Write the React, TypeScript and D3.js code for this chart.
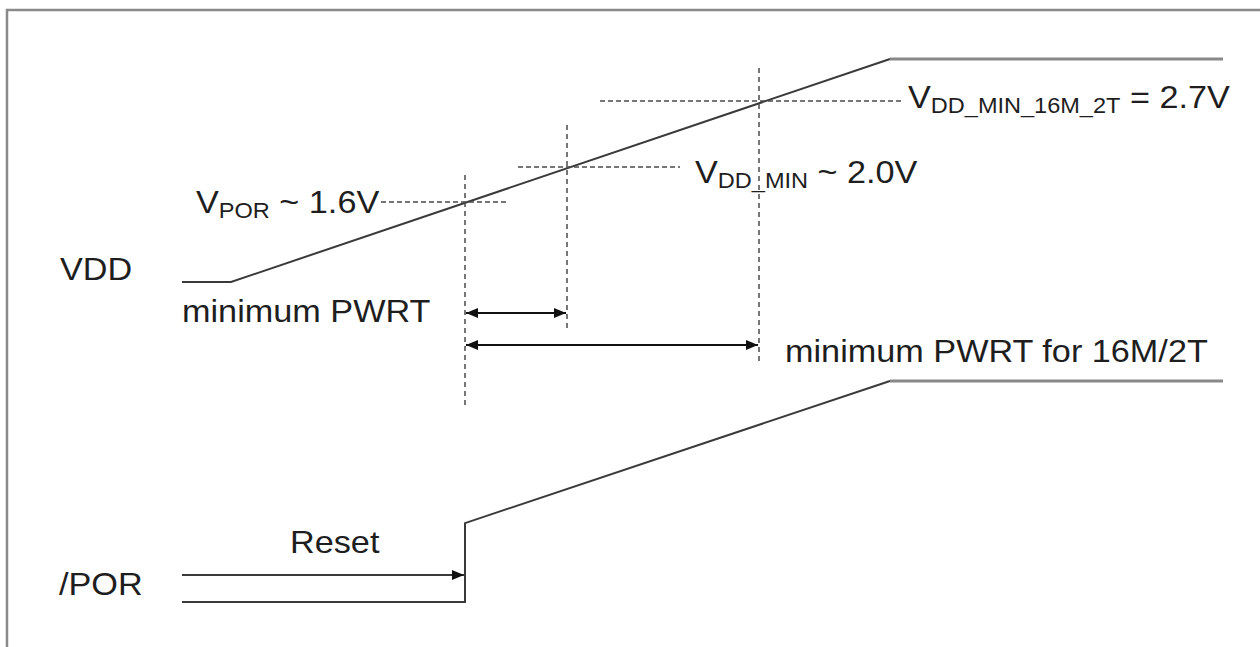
import React from "react";
import * as d3 from "d3";

// ---- data (schematic time units and normalised levels) ----
const vddTimes = [0, 4.9, 70.8, 104.1];
const vddLevels = [0, 0, 1, 1];
const porTimes = [0, 28.3, 28.3, 70.8, 104.1];
const porLevels = [0, 0, 0.357, 1, 1];
const thresholdNames = ["POR", "DD_MIN", "DD_MIN_16M_2T"];
const thresholdTimes = [28.3, 38.5, 57.7];
const thresholdLevels = [0.359, 0.516, 0.812];
const thresholdValues = ["~ 1.6V", "~ 2.0V", "= 2.7V"];
const dashSpans: [number, number][] = [[19.9, 32.6], [33.6, 49.8], [41.8, 72.1]];
const resetSpan = [0, 28.3];
const pwrtLabels = ["minimum PWRT", "minimum PWRT for 16M/2T"];

const W = 1260, H = 647;
const FONT = "'Liberation Sans', Arial, Helvetica, sans-serif";
const SX = 1.07;
const FS = 32;
const SUB = 22;

export default function App() {
  const x = d3.scaleLinear().domain([0, 104.1]).range([182, 1223]);
  const yV = d3.scaleLinear().domain([0, 1]).range([282, 59]);
  const yP = d3.scaleLinear().domain([0, 1]).range([602, 381]);
  const line = d3.line<[number, number]>().x((d) => d[0]).y((d) => d[1]);

  const vddPts: [number, number][] = vddTimes.map((t, i) => [x(t), yV(vddLevels[i])]);
  const porPts: [number, number][] = porTimes.map((t, i) => [x(t), yP(porLevels[i])]);

  const vTop = [175, 125, 68];
  const vBot = [405, 330, 365];
  const labelPos = [
    { x: 196, y: 213 },
    { x: 695, y: 183 },
    { x: 908, y: 108 },
  ];

  const T = (props: { x: number; y: number; children: any; size?: number }) => (
    <text
      transform={`translate(${props.x},${props.y}) scale(${SX},1)`}
      fontFamily={FONT}
      fontSize={props.size ?? FS}
      fill="#1e1e1e"
      style={{ whiteSpace: "pre" }}
    >
      {props.children}
    </text>
  );

  return (
    <svg
      width={W}
      height={H}
      style={{ position: "absolute", left: 0, top: 0, background: "#fff" }}
    >
      <defs>
        <marker
          id="ah"
          viewBox="0 0 12 12"
          markerUnits="userSpaceOnUse"
          markerWidth={12}
          markerHeight={12}
          refX={12}
          refY={6}
          orient="auto-start-reverse"
        >
          <path d="M0,1 L12,6 L0,11 Z" fill="#111" />
        </marker>
      </defs>
      <rect width={W} height={H} fill="#fff" />
      {/* frame */}
      <path d={`M7,${H} V10 H${W}`} fill="none" stroke="#8a8a8a" strokeWidth={2.5} />

      {/* VDD waveform */}
      <path d={line(vddPts.slice(0, 3)) || ""} fill="none" stroke="#3a3a3a" strokeWidth={2} />
      <path d={line(vddPts.slice(2)) || ""} fill="none" stroke="#888" strokeWidth={3} />

      {/* /POR waveform */}
      <path d={line(porPts.slice(0, 4)) || ""} fill="none" stroke="#3a3a3a" strokeWidth={2} />
      <path d={line(porPts.slice(3)) || ""} fill="none" stroke="#888" strokeWidth={3} />

      {/* threshold dashed lines */}
      {thresholdTimes.map((t, i) => (
        <g key={i}>
          <line
            x1={x(dashSpans[i][0])}
            x2={x(dashSpans[i][1])}
            y1={yV(thresholdLevels[i])}
            y2={yV(thresholdLevels[i])}
            stroke="#4a4a4a"
            strokeWidth={1.5}
            strokeDasharray="5,3"
          />
          <line
            x1={x(t)}
            x2={x(t)}
            y1={vTop[i]}
            y2={vBot[i]}
            stroke="#4a4a4a"
            strokeWidth={1.5}
            strokeDasharray="5,4"
          />
        </g>
      ))}

      {/* PWRT arrows */}
      {[1, 2].map((k, i) => (
        <line
          key={k}
          x1={x(thresholdTimes[0]) + 1}
          x2={x(thresholdTimes[k]) - 1}
          y1={i === 0 ? 313 : 345}
          y2={i === 0 ? 313 : 345}
          stroke="#111"
          strokeWidth={2}
          markerStart="url(#ah)"
          markerEnd="url(#ah)"
        />
      ))}

      {/* Reset arrow */}
      <line
        x1={x(resetSpan[0])}
        x2={x(resetSpan[1]) - 1}
        y1={575}
        y2={575}
        stroke="#3a3a3a"
        strokeWidth={2}
        markerEnd="url(#ah)"
      />

      {/* labels */}
      {thresholdNames.map((n, i) => (
        <T key={n} x={labelPos[i].x} y={labelPos[i].y}>
          V
          <tspan fontSize={SUB} dy={5}>{n}</tspan>
          <tspan fontSize={FS} dy={-5}>{" " + thresholdValues[i]}</tspan>
        </T>
      ))}
      <T x={60} y={280}>VDD</T>
      <T x={59} y={595}>/POR</T>
      <T x={182} y={322}>{pwrtLabels[0]}</T>
      <T x={785} y={362}>{pwrtLabels[1]}</T>
      <T x={290} y={553}>Reset</T>
    </svg>
  );
}
